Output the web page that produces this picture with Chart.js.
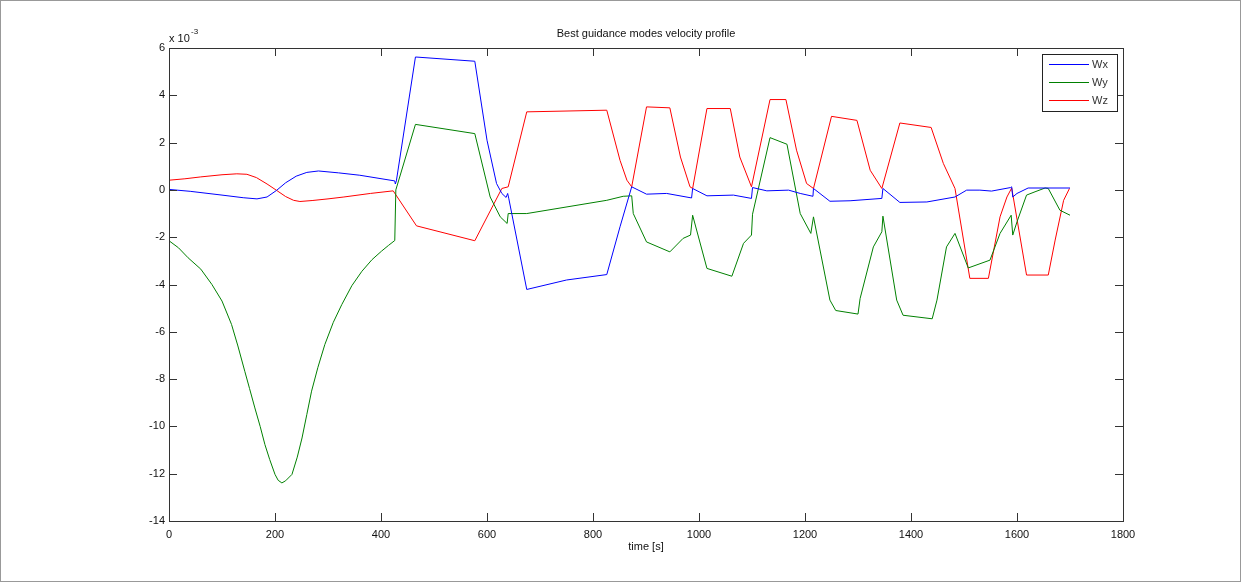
<!DOCTYPE html>
<html>
<head>
<meta charset="utf-8">
<script src="https://cdn.jsdelivr.net/npm/chart.js@4.4.0/dist/chart.umd.min.js"></script>
<style>
  html, body { margin: 0; padding: 0; background: #fff; }
  canvas { display: block; }
</style>
</head>
<body>
<canvas id="chart" width="1241" height="582"></canvas>
<script>
// --- DATA (values in units of 1e-3) ---
const wxTime = [0, 40, 100, 140, 166, 185, 203, 220, 240, 260, 282, 320, 360, 426, 427, 429, 465, 577, 600, 618, 628, 636, 639, 641, 675, 750, 826, 851, 873, 901, 939, 986, 988, 1015, 1065, 1099, 1101, 1128, 1169, 1191, 1215, 1216, 1247, 1285, 1345, 1347, 1379, 1430, 1483, 1505, 1530, 1552, 1588, 1590, 1592, 1600, 1621, 1700];
const wxVal  = [0.02, -0.06, -0.22, -0.33, -0.38, -0.3, -0.02, 0.3, 0.58, 0.74, 0.8, 0.72, 0.62, 0.38, 0.25, 0.38, 5.62, 5.44, 2.1, 0.27, -0.15, -0.32, -0.15, -0.35, -4.21, -3.81, -3.58, -1.56, 0.13, -0.18, -0.15, -0.34, 0.06, -0.25, -0.22, -0.36, 0.1, -0.04, -0.01, -0.15, -0.27, 0.06, -0.48, -0.46, -0.36, 0.06, -0.53, -0.51, -0.3, -0.01, -0.01, -0.05, 0.1, 0.13, -0.3, -0.15, 0.08, 0.08];

const wyTime = [0, 18, 36, 60, 81, 100, 118, 130, 143, 152, 162, 172, 181, 190, 200, 206, 213, 220, 232, 242, 251, 260, 269, 281, 294, 310, 326, 345, 364, 383, 401, 414, 426, 428, 465, 577, 606, 625, 638, 640, 675, 826, 857, 873, 876, 901, 945, 970, 984, 988, 1015, 1062, 1084, 1099, 1101, 1134, 1166, 1191, 1211, 1216, 1247, 1258, 1300, 1304, 1329, 1345, 1347, 1373, 1385, 1440, 1449, 1467, 1483, 1508, 1549, 1568, 1589, 1592, 1600, 1618, 1634, 1653, 1659, 1681, 1700];
const wyVal  = [-2.15, -2.45, -2.87, -3.35, -4.0, -4.7, -5.69, -6.6, -7.67, -8.4, -9.22, -10.0, -10.77, -11.4, -12.03, -12.28, -12.39, -12.3, -12.03, -11.3, -10.49, -9.5, -8.51, -7.5, -6.54, -5.6, -4.85, -4.05, -3.44, -2.95, -2.59, -2.35, -2.14, 0.0, 2.77, 2.38, -0.3, -1.14, -1.42, -1.0, -1.0, -0.44, -0.27, -0.25, -1.0, -2.2, -2.62, -2.05, -1.91, -1.07, -3.32, -3.65, -2.26, -1.91, -1.03, 2.21, 1.93, -1.0, -1.84, -1.14, -4.66, -5.1, -5.25, -4.59, -2.41, -1.77, -1.11, -4.66, -5.3, -5.45, -4.66, -2.41, -1.84, -3.3, -2.97, -1.84, -1.07, -1.91, -1.35, -0.22, -0.08, 0.08, 0.06, -0.86, -1.07];

const wzTime = [0, 30, 60, 100, 128, 147, 165, 185, 203, 220, 235, 247, 270, 300, 330, 380, 423, 467, 577, 628, 640, 675, 826, 851, 864, 873, 901, 945, 965, 983, 988, 1015, 1059, 1077, 1099, 1134, 1164, 1184, 1203, 1216, 1250, 1298, 1323, 1345, 1379, 1438, 1461, 1483, 1511, 1546, 1568, 1581, 1590, 1618, 1659, 1672, 1688, 1699];
const wzVal  = [0.41, 0.47, 0.55, 0.64, 0.68, 0.66, 0.52, 0.25, -0.02, -0.28, -0.44, -0.49, -0.45, -0.38, -0.3, -0.15, -0.04, -1.52, -2.15, 0.06, 0.13, 3.3, 3.37, 1.25, 0.41, 0.13, 3.51, 3.47, 1.39, 0.13, 0.06, 3.44, 3.44, 1.39, 0.13, 3.82, 3.82, 1.68, 0.27, 0.06, 3.11, 2.94, 0.83, 0.06, 2.83, 2.64, 1.12, 0.06, -3.74, -3.74, -1.14, -0.3, 0.08, -3.6, -3.6, -2.12, -0.44, 0.06];

const seriesNames  = ['Wx', 'Wy', 'Wz'];
const seriesColors = ['#0000ff', '#008000', '#ff0000'];
const xTicks = { min: 0, max: 1800, step: 200 };
const yTicks = { min: -14, max: 6, step: 2 };

const FONT = 'Liberation Sans, Arial, sans-serif';
const AXIS_COLOR = '#333';

function toPoints(ts, vs) {
    return ts.map((t, i) => ({ x: t, y: vs[i] }));
}

// --- DECORATION PLUGIN: box, inward ticks, title, multiplier, legend ---
const matlabFrame = {
    id: 'matlabFrame',
    afterDatasetsDraw(chart) {
        const { ctx, chartArea: a, scales } = chart;
        ctx.save();

        // figure border
        ctx.strokeStyle = '#999';
        ctx.lineWidth = 1;
        ctx.strokeRect(0.5, 0.5, chart.width - 1, chart.height - 1);

        ctx.strokeStyle = AXIS_COLOR;
        ctx.strokeRect(Math.round(a.left) + 0.5, Math.round(a.top) + 0.5,
                       Math.round(a.right - a.left), Math.round(a.bottom - a.top));

        const tl = 8;
        ctx.beginPath();
        for (let v = xTicks.min; v <= xTicks.max; v += xTicks.step) {
            const px = Math.round(scales.x.getPixelForValue(v)) + 0.5;
            ctx.moveTo(px, a.bottom); ctx.lineTo(px, a.bottom - tl);
            ctx.moveTo(px, a.top); ctx.lineTo(px, a.top + tl);
        }
        for (let v = yTicks.min; v <= yTicks.max; v += yTicks.step) {
            const py = Math.round(scales.y.getPixelForValue(v)) + 0.5;
            ctx.moveTo(a.left, py); ctx.lineTo(a.left + tl, py);
            ctx.moveTo(a.right, py); ctx.lineTo(a.right - tl, py);
        }
        ctx.stroke();

        // title
        ctx.fillStyle = '#111';
        ctx.font = '11px ' + FONT;
        ctx.textAlign = 'center';
        ctx.textBaseline = 'middle';
        ctx.fillText('Best guidance modes velocity profile', (a.left + a.right) / 2, 34);

        // x label
        ctx.fillText('time [s]', (a.left + a.right) / 2, 547);

        // exponent
        ctx.textAlign = 'left';
        ctx.textBaseline = 'alphabetic';
        ctx.fillText('x 10', a.left, 42);
        ctx.font = '8px ' + FONT;
        ctx.fillText('-3', a.left + 22, 34);

        // legend
        const lx = 1042, ly = 54, lw = 75, lh = 57;
        ctx.fillStyle = '#fff';
        ctx.fillRect(lx, ly, lw, lh);
        ctx.strokeStyle = '#222';
        ctx.strokeRect(lx + 0.5, ly + 0.5, lw, lh);
        ctx.font = '11px ' + FONT;
        ctx.textBaseline = 'middle';
        chart.data.datasets.forEach((ds, i) => {
            const y = ly + 10.5 + i * 18;
            ctx.strokeStyle = ds.borderColor;
            ctx.beginPath();
            ctx.moveTo(lx + 7, y); ctx.lineTo(lx + 47, y);
            ctx.stroke();
            ctx.fillStyle = '#333';
            ctx.fillText(ds.label, lx + 50, y);
        });
        ctx.restore();
    }
};

const datasets = [
    toPoints(wxTime, wxVal),
    toPoints(wyTime, wyVal),
    toPoints(wzTime, wzVal)
].map((pts, i) => ({
    label: seriesNames[i],
    data: pts,
    borderColor: seriesColors[i],
    borderWidth: 1,
    pointRadius: 0,
    tension: 0,
    fill: false
}));

new Chart(document.getElementById('chart').getContext('2d'), {
    type: 'line',
    data: { datasets },
    options: {
        responsive: false,
        animation: false,
        layout: { padding: { top: 48, right: 118, left: 0, bottom: 0 } },
        plugins: { legend: { display: false }, tooltip: { enabled: false } },
        scales: {
            x: {
                type: 'linear', min: xTicks.min, max: xTicks.max,
                ticks: { stepSize: xTicks.step, color: '#111', font: { family: FONT, size: 11 }, padding: 7, maxRotation: 0,
                         callback: v => String(v) },
                grid: { display: false, drawTicks: false },
                border: { display: false },
                afterFit: s => { s.height = 61; }
            },
            y: {
                min: yTicks.min, max: yTicks.max,
                ticks: { stepSize: yTicks.step, color: '#111', font: { family: FONT, size: 11 }, padding: 4,
                         callback: v => String(v) },
                grid: { display: false, drawTicks: false },
                border: { display: false },
                afterFit: s => { s.width = 169; }
            }
        }
    },
    plugins: [matlabFrame]
});
</script>
</body>
</html>
